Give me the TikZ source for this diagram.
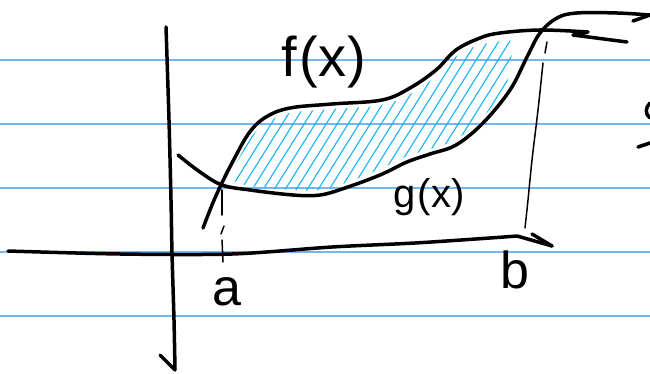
\documentclass[tikz,border=0pt]{standalone}
\usepackage{fontspec}
\setmainfont{Liberation Sans}
\begin{document}
\begin{tikzpicture}[x=1pt,y=-1pt,
  ink/.style={line width=3.5pt,line cap=round,line join=round,black},
  thinink/.style={line width=1.5pt,line cap=round,black},
  rule/.style={line width=1.2pt,color=rulecol},
  hatch/.style={line width=1.1pt,color=hatchcol,line cap=round},
  lbl/.style={inner sep=0pt,text=black}]
\definecolor{rulecol}{RGB}{120,180,240}
\definecolor{hatchcol}{RGB}{20,180,240}
\useasboundingbox (0,0) rectangle (650,374);
\fill[white] (0,0) rectangle (650,374);
% ruled lines
\foreach \yy in {60,124,188,252,316} \draw[rule] (0,\yy) -- (650,\yy);
% hatching between f and g
\begin{scope}
\clip plot[smooth,tension=0.6] coordinates {(232,172) (238,160) (252,136) (268,122) (290,113) (332,109) (382,105) (412,93) (438,75) (458,55) (480,45) (510,40)}
  -- plot[smooth,tension=0.6] coordinates {(512,50) (505,88) (480,120) (455,140) (430,149) (405,157) (378,170) (345,183) (320,190) (293,190) (250,186) (232,180)} -- cycle;
\foreach \i in {0,...,38} \draw[hatch] (120+\i*11,225) -- ++(125,-200);
\end{scope}
% axes
\draw[ink] plot[smooth] coordinates {(166,27) (169,120) (171,200) (172,253) (174,320) (175,370)};
\draw[ink] (160,355) -- (175,370);
\draw[ink] plot[smooth,tension=0.5] coordinates {(8,251) (120,254) (232,254) (332,247) (415,243) (490,238) (517,236)} -- (552,246);
\draw[ink] (532,234) -- (552,246);
% f(x)
\draw[ink] plot[smooth,tension=0.6] coordinates {(203,228) (212,205) (220,187) (232,163) (249,133) (266,117) (290,108) (332,104) (382,100) (410,88) (436,70) (456,50) (480,38) (500,33) (540,30) (588,32)} -- (573,35) -- (627,42);
% g(x)
\draw[ink] plot[smooth,tension=0.6] coordinates {(178,155) (200,172) (222,185) (250,190) (293,195) (320,195) (345,188) (380,175) (407,162) (430,154) (456,145) (483,123) (510,90) (527,57) (540,33) (557,18) (577,13) (617,13) (650,15)};
\draw[ink] (633,21) -- (650,15);
% partial mark at right edge
\draw[ink] (650,103) .. controls (645,108) and (645,114) .. (650,118);
\draw[ink] (638,147) -- (650,143);
% dashed verticals
\draw[thinink] (222,190) -- (222,215);
\draw[thinink] (224,226) -- (221,234);
\draw[thinink] (222,240) -- (223,262);
\draw[thinink] (547,42) -- (545,53);
\draw[thinink] plot[smooth] coordinates {(543,63) (538,110) (532,160) (528,200) (525,228)};
% labels
\node[lbl,font=\fontsize{56}{56}\selectfont] (fx) at (324,62) {f\kern2pt(\kern1pt x\kern1pt)};
\node[lbl,font=\fontsize{40}{40}\selectfont] (gx) at (429,197) {g\kern2pt(\kern1pt x)};
\node[lbl,font=\fontsize{52}{52}\selectfont] (a) at (227,292) {a};
\node[lbl,font=\fontsize{52}{52}\selectfont] (b) at (515,270) {b};
\end{tikzpicture}
\end{document}
